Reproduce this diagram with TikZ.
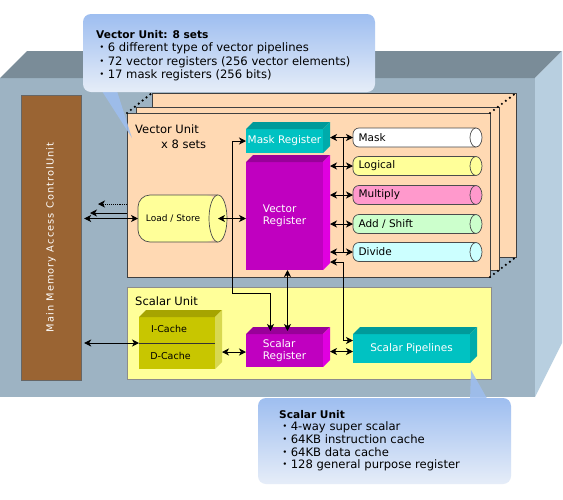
\documentclass[tikz,border=0pt]{standalone}
\usepackage{fontspec}
\setmainfont{DejaVu Sans}
\newfontfamily\cjkfont{Noto Sans CJK JP}
\usetikzlibrary{arrows.meta,positioning}

\definecolor{casefront}{HTML}{9DB3C3}
\definecolor{casetop}{HTML}{7A8C98}
\definecolor{caseside}{HTML}{B8CFE0}
\definecolor{vupeach}{HTML}{FFD9B3}
\definecolor{mmbrown}{HTML}{9A6433}
\definecolor{suyellow}{HTML}{FFFF99}
\definecolor{regteal}{HTML}{00C2C2}
\definecolor{regtealtop}{HTML}{009A9A}
\definecolor{regtealside}{HTML}{00ABAB}
\definecolor{regmag}{HTML}{C000C0}
\definecolor{regmagtop}{HTML}{990099}
\definecolor{regmagside}{HTML}{E000E0}
\definecolor{cacheol}{HTML}{C8C600}
\definecolor{cacheoltop}{HTML}{A6A400}
\definecolor{cacheolside}{HTML}{D8D850}
\definecolor{logicfill}{HTML}{FFFF99}
\definecolor{multfill}{HTML}{FF99CC}
\definecolor{addfill}{HTML}{CCFFCC}
\definecolor{divfill}{HTML}{CCFFFF}
\definecolor{callhi}{HTML}{9EBEF0}
\definecolor{calllo}{HTML}{E6EDF8}

\newcommand{\bul}{{\cjkfont ・}}

\begin{document}
\begin{tikzpicture}[
  x=1pt, y=-1pt,
  font=\fontsize{10.5}{11.5}\selectfont,
  % front face of a 3-D block
  blk/.style={rectangle, inner sep=0pt, outer sep=0pt, align=left, text=white},
  % unit panels
  panel/.style={rectangle, draw=black!75, line width=0.7pt, fill=vupeach,
                inner sep=0pt, outer sep=0pt},
  % horizontal pipeline tube (body; outline and end cap drawn later)
  pipe/.style={rectangle, rounded corners=6pt, minimum width=123pt,
               minimum height=19pt, inner sep=0pt, outer sep=0pt,
               label={[anchor=west, xshift=2pt]west:#1}},
  tube/.style={draw=black!70, line width=0.7pt},
  lbl/.style={inner sep=0pt, anchor=west},
  setdots/.style={line width=2.4pt, dash pattern=on 0pt off 5pt, line cap=round},
  wire/.style={line width=0.9pt},
  arr/.style={wire, -{Stealth[length=7pt,width=7pt,inset=2pt]}},
  dar/.style={wire, {Stealth[length=7pt,width=7pt,inset=2pt]}-{Stealth[length=7pt,width=7pt,inset=2pt]}},
  callbox/.style={rectangle, rounded corners=8pt, top color=callhi,
                  bottom color=calllo, inner sep=0pt},
  calltxt/.style={inner sep=0pt, anchor=north west, align=left,
                  font=\fontsize{11.6}{13.5}\selectfont}
]
\fill[white] (0,0) rectangle (563,499);
\useasboundingbox (0,0) rectangle (563,499);

% ── Cabinet ────────────────────────────────────────────────────────────────
\node[rectangle, fill=casefront, inner sep=0pt, outer sep=0pt,
      minimum width=535pt, minimum height=319pt] (case) at (267.5,237.5) {};
\fill[casetop]  (case.north west) -- ++(27,-27) -- ++(535,0) -- (case.north east) -- cycle;
\fill[caseside] (case.north east) -- ++(27,-27) -- ++(0,292) -- (case.south east) -- cycle;

% ── Main memory access control ────────────────────────────────────────────
\node[rectangle, draw=black!60, fill=mmbrown, inner sep=0pt,
      minimum width=60pt, minimum height=285pt] (mmcu) at (51,237.5) {};
\node[rotate=90, text=white, inner sep=0pt,
      font=\fontsize{9.8}{10}\selectfont\addfontfeature{LetterSpace=11}]
      (mmtxt) at (mmcu.center) {Main Memory Access ControlUnit};

% ── Vector unit (8 stacked sets) ──────────────────────────────────────────
\node[panel, minimum width=364pt, minimum height=164pt] (vuback)  at (334,175)   {};
\node[panel, minimum width=363pt, minimum height=163pt] (vumid)   at (317.5,188.5) {};
\node[panel, minimum width=363pt, minimum height=164pt] (vufront) at (308.5,195) {};
\foreach \c in {north west, north east, south east}
  \draw[setdots] (vufront.\c) -- (vuback.\c);

\node[lbl, font=\fontsize{11.5}{12}\selectfont] (vulbl)  at (135,129) {Vector Unit};
\node[lbl, font=\fontsize{11.5}{12}\selectfont] (vusets) at (161,144) {x 8 sets};

\node[rectangle, rounded corners=12pt, fill=logicfill, minimum width=80pt,
      minimum height=47pt, inner sep=0pt, outer sep=0pt,
      label={[xshift=-5pt, font=\fontsize{9}{10}\selectfont]center:Load / Store}]
      (ldst) at (178,218.5) {};
\draw[tube, rounded corners=12pt] (ldst.north east) -- (ldst.north west)
      -- (ldst.south west) -- (ldst.south east);
\filldraw[tube, fill=logicfill] (ldst.east) ellipse [x radius=9pt, y radius=23.5pt];

\node[blk, fill=regteal, minimum width=77pt, minimum height=24pt] (maskreg) at (284.5,141) {Mask Register};
\node[blk, fill=regmag,  minimum width=77pt, minimum height=108pt] (vecreg) at (284.5,216) {Vector\\Register};

\node[pipe=Mask,        fill=white]     (pmask)  at (414.5,137.5) {};
\node[pipe=Logical,     fill=logicfill] (plogic) at (414.5,166)   {};
\node[pipe=Multiply,    fill=multfill]  (pmult)  at (414.5,195)   {};
\node[pipe=Add / Shift, fill=addfill]   (padd)   at (414.5,224)   {};
\node[pipe=Divide,      fill=divfill]   (pdiv)   at (414.5,252)   {};
\foreach \p/\c in {pmask/white, plogic/logicfill, pmult/multfill, padd/addfill, pdiv/divfill} {
  \draw[tube, rounded corners=6pt] (\p.north east) -- (\p.north west)
        -- (\p.south west) -- (\p.south east);
  \filldraw[tube, fill=\c] (\p.east) ellipse [x radius=6pt, y radius=9.5pt];
}

% ── Scalar unit ───────────────────────────────────────────────────────────
\node[panel, fill=suyellow, draw=black!45, minimum width=364pt, minimum height=92pt]
      (su) at (309,333) {};
\node[lbl, font=\fontsize{11.5}{12}\selectfont] (sulbl) at (135,301) {Scalar Unit};

\node[blk, fill=cacheol, minimum width=76pt, minimum height=52pt] (cache) at (177,343) {};
\draw[black!80, line width=0.8pt] (cache.west) -- (cache.east);
\node[inner sep=0pt, font=\fontsize{9.5}{10}\selectfont] (icache) at (169,329) {I-Cache};
\node[inner sep=0pt, font=\fontsize{9.5}{10}\selectfont] (dcache) at (170.5,356) {D-Cache};

\node[blk, fill=regmag,  minimum width=77pt,  minimum height=33pt] (scalreg)  at (284.5,350.5) {Scalar\\Register};
\node[blk, fill=regteal, minimum width=117pt, minimum height=29pt] (scalpipe) at (411.5,348.5) {Scalar Pipelines};

% top and side faces of the blocks
\foreach \b/\tc/\sc in {maskreg/regtealtop/regtealside, vecreg/regmagtop/regmagside,
                        scalreg/regmagtop/regmagside, scalpipe/regtealtop/regtealside,
                        cache/cacheoltop/cacheolside} {
  \fill[\tc] (\b.north west) -- ([shift={(7pt,7pt)}]\b.north west)
          -- ([shift={(7pt,7pt)}]\b.north east) -- (\b.north east) -- cycle;
  \fill[\sc] (\b.north east) -- ([shift={(7pt,7pt)}]\b.north east)
          -- ([shift={(7pt,7pt)}]\b.south east) -- (\b.south east) -- cycle;
}
\coordinate (maskside)  at ([xshift=7pt]maskreg.east);
\coordinate (vecside)   at ([xshift=7pt]vecreg.east);
\coordinate (scalside)  at ([xshift=7pt]scalreg.east);
\coordinate (cacheside) at ([xshift=7pt]cache.east);

% ── Connections ───────────────────────────────────────────────────────────
\coordinate (bus)   at (343,0);
\coordinate (vlow)  at (343,262);
\coordinate (mjoin) at (232,293);
\coordinate (set3out) at (98,204);
\coordinate (set2out) at (90,213);
\coordinate (sprow) at ([yshift=-3pt]scalpipe.west);
\coordinate (dcrow) at ([yshift=-1.5pt]scalreg.west);

\draw[arr, densely dotted] (vufront.west |- set3out) -- (set3out);
\draw[arr] (vufront.west |- set2out) -- (set2out);
\draw[dar, shorten <=3pt] (mmcu.east |- ldst.west) -- (ldst.west);
\draw[dar] (ldst.east) -- (vecreg.west |- ldst.east);

\draw[dar] (maskside |- pmask.west) -- (pmask.west);
\foreach \p in {plogic,pmult,padd,pdiv}
  \draw[dar] (vecside |- \p.west) -- (\p.west);
\draw[wire] (bus |- pmask.west) -- (bus |- pdiv.west);
\draw[dar] (vecside |- vlow) -- (vlow) |- ([yshift=8pt]scalpipe.west);

\draw[dar] (maskreg.west) -| (mjoin) -| ([xshift=-14pt,yshift=3pt]scalreg.north);
\draw[dar] ([xshift=3pt]vecreg.south) -- ([xshift=3pt,yshift=3pt]scalreg.north);

\draw[dar, shorten <=3pt] (mmcu.east |- cache.west) -- (cache.west);
\draw[dar] (cacheside |- dcrow) -- (dcrow);
\draw[dar] (scalside |- sprow) -- (sprow);

% ── Callouts ──────────────────────────────────────────────────────────────
\fill[callhi, opacity=0.85] (100,88) -- (132,138) -- (116,88) -- cycle;
\node[callbox, minimum width=292pt, minimum height=78pt] (vucall) at (229,53) {};
\node[calltxt] (vutxt) at (96,30)
  {{\fontsize{10.6}{13.5}\selectfont\bfseries Vector Unit: 8 sets}\\
   \bul 6 different type of vector pipelines\\
   \bul 72 vector registers (256 vector elements)\\
   \bul 17 mask registers (256 bits)};

\fill[callhi, opacity=0.85] (470,402) -- (471,370) -- (489,402) -- cycle;
\node[callbox, minimum width=253pt, minimum height=86pt] (sucall) at (384.5,441) {};
\node[calltxt, font=\fontsize{11.6}{12.6}\selectfont] (sutxt) at (279,410)
  {{\fontsize{10.6}{12.6}\selectfont\bfseries Scalar Unit}\\
   \bul 4-way super scalar\\
   \bul 64KB instruction cache\\
   \bul 64KB data cache\\
   \bul 128 general purpose register};
\end{tikzpicture}
\end{document}
